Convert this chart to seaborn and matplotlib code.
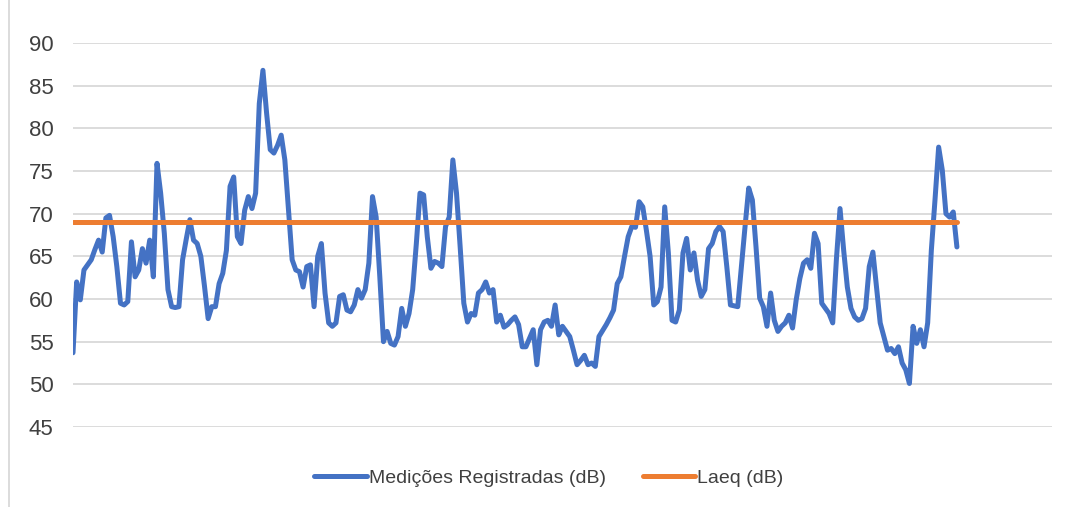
import numpy as np
import pandas as pd
import matplotlib.pyplot as plt
import seaborn as sns
from matplotlib.lines import Line2D

medicoes = [
    53.7, 62.0, 59.9, 63.4, 64.0, 64.6, 65.8, 66.9, 65.5, 69.5, 69.8, 67.3,
    63.8, 59.5, 59.3, 59.7, 66.7, 62.6, 63.4, 65.9, 64.2, 66.9, 62.6,
    75.9, 72.4, 67.7, 61.1, 59.1, 59.0, 59.1, 64.6, 67.0, 69.3,
    66.9, 66.5, 65.0, 61.5, 57.7, 59.1,
    59.1, 61.8, 63.0, 65.7, 73.2, 74.3, 67.3, 66.5, 70.4, 72.0,
    70.6, 72.4, 82.9, 86.8, 81.8, 77.5, 77.1, 78.0, 79.2, 76.3,
    70.4, 64.6, 63.4, 63.2, 61.4, 63.8, 64.0, 59.1, 65.0, 66.5,
    60.7, 57.2, 56.8, 57.2, 60.3, 60.5, 58.7, 58.5, 59.3,
    61.1, 60.1, 61.1, 64.2, 72.0, 69.6, 62.6, 55.0, 56.2,
    54.8, 54.6, 55.6, 58.9, 56.8, 58.3, 61.1, 66.5, 72.4, 72.2,
    67.3, 63.6, 64.4, 64.2, 63.8, 68.5, 69.6, 76.3, 72.4, 66.1,
    59.5, 57.3, 58.3, 58.1, 60.7, 61.1, 62.0, 60.7, 61.1, 57.3,
    58.1,
    56.7, 57.0, 57.5, 57.9, 57.0, 54.4, 54.4, 55.4, 56.4, 52.3, 56.4, 57.3,
    57.5, 56.8, 59.3, 55.8, 56.8, 56.2, 55.6, 54.0, 52.3, 52.8,
    53.4, 52.3, 52.5, 52.1, 55.6, 56.3, 57.0, 57.8, 58.7, 61.8,
    62.6, 65.0, 67.3, 68.5, 68.4, 71.4, 70.8, 68.0, 65.0, 59.3, 59.7,
    61.4,
    70.8, 65.4, 57.5, 57.3, 58.7, 65.4, 67.1, 63.4, 65.4, 62.2,
    60.3, 61.1, 65.9, 66.5, 67.9, 68.5, 67.9, 63.8, 59.3, 59.2,
    59.1, 63.8, 68.5, 73.0, 71.6, 66.1, 60.1, 59.1, 56.8, 60.7,
    57.5, 56.2, 56.8, 57.2, 58.1, 56.6, 59.9, 62.4, 64.2, 64.6,
    63.6,
    67.7, 66.5, 59.5, 58.9, 58.3, 57.2, 64.6, 70.6, 65.7, 61.4,
    58.9, 57.9, 57.5, 57.7, 58.9, 63.8, 65.5, 61.4, 57.2, 55.6,
    54.0, 54.2, 53.6, 54.4, 52.5, 51.7, 50.1, 56.8, 54.8, 56.4,
    54.4, 57.2, 65.7, 71.6, 77.8, 75.1, 70.0, 69.6, 70.2, 66.1,
]
laeq = 69.0
y_ticks = [45, 50, 55, 60, 65, 70, 75, 80, 85, 90]

n = len(medicoes)
df = pd.DataFrame({
    'amostra': np.arange(n),
    'Medições Registradas (dB)': medicoes,
    'Laeq (dB)': [laeq] * n,
})
long = df.melt(id_vars='amostra', var_name='serie', value_name='dB')

sns.set_style('white')
plt.rcParams['font.family'] = ['Liberation Sans', 'DejaVu Sans']

fig = plt.figure(figsize=(10.67, 5.07), dpi=100)
ax = fig.add_axes([73 / 1067, 1 - 427 / 507, (1052 - 73) / 1067, (427 - 43) / 507])

sns.lineplot(data=long, x='amostra', y='dB', hue='serie',
             palette=['#4472C4', '#ED7D31'], linewidth=3.6, ax=ax,
             legend=False, solid_joinstyle='round', solid_capstyle='round')

# eixo de categorias vai além dos dados (como no Excel)
ax.set_xlim(0, (n - 1) * (1052 - 74) / (957 - 74))
ax.set_ylim(45, 90)
ax.set_yticks(y_ticks)
ax.set_xticks([])
ax.set_xlabel('')
ax.set_ylabel('')
ax.grid(axis='y', color='#d9d9d9', linewidth=1.3)
ax.set_axisbelow(True)
for s in ax.spines.values():
    s.set_visible(False)
ax.tick_params(axis='y', length=0, pad=14, labelsize=16, labelcolor='#404040')

handles = [Line2D([], [], color='#4472C4', linewidth=3.6, solid_capstyle='round'),
           Line2D([], [], color='#ED7D31', linewidth=3.6, solid_capstyle='round')]
fig.legend(handles, ['Medições Registradas (dB)', 'Laeq (dB)'],
           loc='center', bbox_to_anchor=(549 / 1067, 1 - 478 / 507),
           ncol=2, frameon=False, fontsize=14, handlelength=2.7,
           handletextpad=0.1, columnspacing=1.9, labelcolor='#404040')

fig.add_artist(Line2D([9 / 1067, 9 / 1067], [0, 1], color='#d9d9d9',
                      linewidth=1.3, transform=fig.transFigure))

fig.savefig('out.png', dpi=100)
